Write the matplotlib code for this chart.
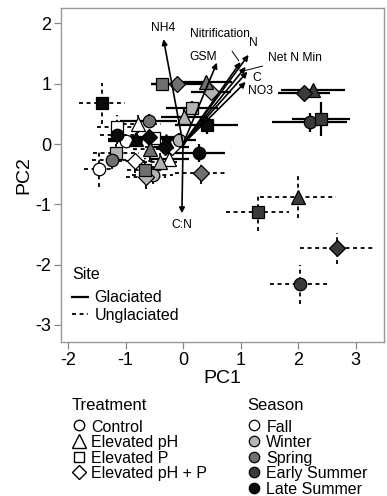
import matplotlib
matplotlib.use("Agg")
import matplotlib.pyplot as plt
from matplotlib.lines import Line2D

plt.rcParams['font.family'] = ['Liberation Sans', 'DejaVu Sans']
plt.rcParams['axes.unicode_minus'] = False

# one entry per site x treatment x season mean (PC scores +/- SE)
site = ['G'] * 20 + ['U'] * 20
treatment = ['Control', 'Elevated pH', 'Elevated P', 'Elevated pH + P'] * 10
season = (['Fall'] * 4 + ['Winter'] * 4 + ['Spring'] * 4 + ['Early Summer'] * 4 + ['Late Summer'] * 4) * 2
pc1 = [-1.00, -0.24, -0.50, -0.20,
       -0.07, 0.02, 0.16, 0.48,
       -0.60, 0.40, -0.36, -0.10,
       2.20, 2.26, 2.40, 2.10,
       0.28, -0.81, 0.41, -0.59,
       -1.47, -0.78, -1.14, -0.83,
       -0.53, -0.40, -1.16, -0.64,
       -1.24, -0.57, -0.67, 0.31,
       2.03, 2.00, 1.30, 2.67,
       -1.14, -0.30, -1.41, -0.31]
pc2 = [0.05, -0.25, 0.10, -0.05,
       0.07, 0.45, 0.60, 0.87,
       0.38, 1.03, 1.00, 1.00,
       0.36, 0.90, 0.41, 0.85,
       -0.15, 0.08, 0.32, 0.12,
       -0.42, 0.33, 0.28, -0.28,
       -0.52, -0.30, -0.15, -0.55,
       -0.27, -0.08, -0.43, -0.48,
       -2.33, -0.88, -1.13, -1.73,
       0.15, 0.05, 0.68, -0.05]
pc1_err = [0.30, 0.35, 0.35, 0.30,
           0.30, 0.40, 0.45, 0.35,
           0.50, 0.45, 0.20, 0.45,
           0.65, 0.55, 0.50, 0.45,
           0.45, 0.50, 0.55, 0.45,
           0.25, 0.40, 0.35, 0.30,
           0.35, 0.30, 0.40, 0.35,
           0.35, 0.30, 0.30, 0.45,
           0.52, 0.66, 0.55, 0.63,
           0.30, 0.30, 0.40, 0.35]
pc2_err = [0.10, 0.10, 0.10, 0.10,
           0.12, 0.15, 0.12, 0.10,
           0.12, 0.10, 0.10, 0.08,
           0.16, 0.08, 0.28, 0.07,
           0.15, 0.10, 0.15, 0.12,
           0.30, 0.15, 0.20, 0.20,
           0.15, 0.15, 0.15, 0.20,
           0.15, 0.15, 0.20, 0.18,
           0.32, 0.35, 0.32, 0.26,
           0.15, 0.12, 0.34, 0.12]

# loading vectors
var_names = ['NH4', 'GSM', 'Nitrification', 'N', 'Net N Min', 'C', 'NO3', 'C:N']
load1 = [-0.34, 0.59, 1.00, 1.14, 1.09, 1.12, 1.09, -0.02]
load2 = [1.74, 1.35, 1.36, 1.48, 1.28, 1.20, 1.03, -1.15]

markers = {'Control': 'o', 'Elevated pH': '^', 'Elevated P': 's', 'Elevated pH + P': 'D'}
msizes = {'Control': 9, 'Elevated pH': 10.5, 'Elevated P': 8.5, 'Elevated pH + P': 8.5}
leg_sizes = {'Control': 7.5, 'Elevated pH': 10, 'Elevated P': 7, 'Elevated pH + P': 7}
colors = {'Fall': 'white', 'Winter': '#b4b4b4', 'Spring': '#707070',
          'Early Summer': '#3a3a3a', 'Late Summer': '#0a0a0a'}

fig = plt.figure(figsize=(3.87, 4.96), dpi=100)
ax = fig.add_axes([0.158, 0.31, 0.835, 0.673])

for i in range(len(pc1)):
    eb = ax.errorbar(pc1[i], pc2[i], xerr=pc1_err[i], yerr=pc2_err[i], fmt='none',
                     ecolor='black', elinewidth=1.6 if site[i] == 'G' else 1.3,
                     capsize=0, zorder=2)
    if site[i] == 'U':
        for lc in eb[2]:
            lc.set_linestyle((0, (2.2, 2.0)))
    ax.plot(pc1[i], pc2[i], marker=markers[treatment[i]], ms=msizes[treatment[i]],
            mfc=colors[season[i]], mec='black', mew=0.9, ls='none', zorder=3)

for name, a, b in zip(var_names, load1, load2):
    ax.annotate('', xy=(a, b), xytext=(0, 0),
                arrowprops=dict(arrowstyle='-|>', lw=1.2, color='black',
                                mutation_scale=8, shrinkA=0, shrinkB=0), zorder=5)

fs = 8.7
ax.text(-0.34, 1.82, 'NH4', fontsize=fs, ha='center', va='bottom')
ax.text(-0.02, -1.25, 'C:N', fontsize=fs, ha='center', va='top')
ax.text(0.35, 1.35, 'GSM', fontsize=fs, ha='center', va='bottom')
ax.text(1.15, 1.58, 'N', fontsize=fs, ha='left', va='bottom')
ax.text(1.20, 1.10, 'C', fontsize=fs, ha='left', va='center')
ax.text(1.13, 0.88, 'NO3', fontsize=fs, ha='left', va='center')
ax.annotate('Nitrification', xy=(0.97, 1.38), xytext=(0.65, 1.82), fontsize=fs,
            ha='center', va='center',
            arrowprops=dict(arrowstyle='-', lw=0.7, color='black', shrinkA=7, shrinkB=0))
ax.annotate('Net N Min', xy=(1.0, 1.2), xytext=(1.48, 1.43), fontsize=fs,
            ha='left', va='center',
            arrowprops=dict(arrowstyle='-', lw=0.7, color='black', shrinkA=2, shrinkB=0))

ax.set_xlim(-2.12, 3.5)
ax.set_ylim(-3.29, 2.25)
ax.set_xticks([-2, -1, 0, 1, 2, 3])
ax.set_yticks([-3, -2, -1, 0, 1, 2])
ax.tick_params(labelsize=13, color='#888888', length=5, width=0.9, pad=2)
for sp in ax.spines.values():
    sp.set_color('#999999')
    sp.set_linewidth(1.0)
ax.set_xlabel('PC1', fontsize=14, labelpad=1)
ax.set_ylabel('PC2', fontsize=14, labelpad=2)

site_handles = [Line2D([], [], color='black', lw=1.6),
                Line2D([], [], color='black', lw=1.3, ls=(0, (2.2, 2.0)))]
leg = ax.legend(site_handles, ['Glaciated', 'Unglaciated'], title='Site', loc='lower left',
                bbox_to_anchor=(0.0, 0.025), frameon=False, fontsize=11.5, title_fontsize=11.5,
                handlelength=1.0, handletextpad=0.4, labelspacing=0.15, borderaxespad=0.3)
leg._legend_box.align = 'left'
leg._legend_box.sep = 6

# bottom legends (titles as separate text)
fig.text(72 / 387, 1 - 405 / 496, 'Treatment', fontsize=12, ha='left', va='center')
fig.text(247 / 387, 1 - 405 / 496, 'Season', fontsize=12, ha='left', va='center')

treat_handles = [Line2D([], [], marker=markers[t], ms=leg_sizes[t], mfc='white', mec='black',
                        mew=1.0, ls='none') for t in markers]
fig.legend(treat_handles, list(markers), loc='upper left',
           bbox_to_anchor=(73 / 387, 1 - 419 / 496), frameon=False, fontsize=11.5,
           handlelength=0.8, handletextpad=0.35, labelspacing=0.0, borderpad=0,
           borderaxespad=0, handleheight=1.0)

season_handles = [Line2D([], [], marker='o', ms=7.5, mfc=colors[s], mec='black',
                         mew=0.9, ls='none') for s in colors]
fig.legend(season_handles, list(colors), loc='upper left',
           bbox_to_anchor=(248 / 387, 1 - 419 / 496), frameon=False, fontsize=11.5,
           handlelength=0.8, handletextpad=0.35, labelspacing=0.0, borderpad=0,
           borderaxespad=0, handleheight=1.0)

fig.savefig('out.png', dpi=100)
